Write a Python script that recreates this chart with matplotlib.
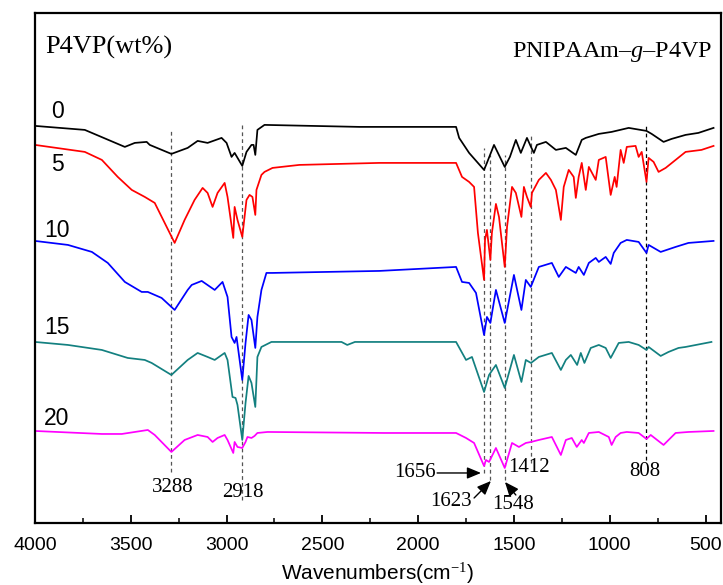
import matplotlib
matplotlib.use("Agg")
import matplotlib.pyplot as plt
from matplotlib.ticker import MultipleLocator

plt.rcParams['mathtext.fontset'] = 'custom'
plt.rcParams['mathtext.rm'] = 'Liberation Serif'
plt.rcParams['mathtext.it'] = 'Liberation Serif:italic'

# spectra: wavenumber (cm-1) and transmittance (offset, a.u.)
wn_0 = [4000, 3740, 3531, 3479, 3417, 3401, 3288, 3203, 3151, 3099, 3026, 3000, 2974, 2958,
        2918, 2896, 2870, 2859, 2850, 2839, 2802, 2307, 1802, 1786, 1734, 1656, 1641, 1604,
        1548, 1521, 1490, 1464, 1432, 1411, 1396, 1380, 1333, 1281, 1229, 1177, 1146, 1125,
        1057, 990, 901, 808, 781, 719, 677, 604, 537, 458]
t_0 = [397, 393, 376, 380, 381, 378, 369, 375, 382, 380, 385, 380, 366, 370,
       357, 371, 378, 378, 368, 393, 398, 396, 396, 385, 370, 353, 360, 378,
       356, 366, 383, 370, 385, 376, 370, 378, 381, 373, 375, 368, 383, 385,
       389, 391, 395, 392, 389, 381, 384, 388, 390, 395]

wn_5 = [4000, 3740, 3651, 3568, 3495, 3427, 3375, 3323, 3271, 3219, 3167, 3125, 3099, 3073,
        3047, 3010, 2995, 2965, 2958, 2943, 2918, 2896, 2880, 2865, 2850, 2844, 2818, 2802,
        2760, 2620, 2203, 1802, 1771, 1734, 1708, 1688, 1656, 1651, 1641, 1623, 1615, 1594,
        1578, 1548, 1536, 1510, 1490, 1461, 1448, 1432, 1412, 1406, 1370, 1333, 1307, 1281,
        1255, 1240, 1214, 1188, 1177, 1162, 1146, 1125, 1109, 1073, 1057, 1021, 995, 974,
        964, 943, 927, 911, 865, 849, 833, 808, 797, 771, 745, 708, 656, 604, 521, 458]
t_5 = [378, 371, 363, 346, 333, 326, 320, 300, 280, 303, 323, 335, 330, 316,
       330, 340, 326, 285, 316, 303, 286, 323, 328, 326, 308, 333, 348, 351,
       355, 358, 360, 360, 346, 341, 336, 290, 243, 283, 293, 263, 290, 319,
       306, 256, 296, 336, 330, 306, 336, 326, 316, 330, 343, 350, 343, 333,
       303, 336, 353, 346, 325, 346, 360, 333, 356, 343, 363, 366, 328, 346,
       336, 373, 360, 376, 377, 366, 371, 341, 365, 361, 351, 355, 363, 371, 373, 377]

wn_10 = [4000, 3828, 3703, 3620, 3531, 3443, 3411, 3339, 3271, 3203, 3182, 3130, 3062, 3021,
         2995, 2974, 2958, 2948, 2918, 2901, 2885, 2870, 2850, 2839, 2818, 2792, 2760, 2203,
         1802, 1771, 1734, 1698, 1656, 1641, 1623, 1594, 1548, 1500, 1461, 1438, 1412, 1370,
         1302, 1266, 1229, 1177, 1162, 1135, 1109, 1073, 1057, 1021, 995, 979, 943, 911,
         849, 808, 797, 734, 656, 589, 458]
t_10 = [282, 278, 271, 260, 241, 231, 231, 225, 213, 233, 238, 242, 233, 241,
        226, 186, 180, 186, 143, 180, 208, 203, 175, 206, 233, 250, 250, 252,
        256, 241, 240, 230, 188, 206, 200, 233, 200, 248, 213, 243, 236, 256,
        260, 246, 256, 250, 256, 248, 260, 265, 261, 266, 259, 270, 280, 283,
        281, 270, 278, 271, 276, 280, 282]

wn_15 = [4000, 3828, 3651, 3516, 3427, 3391, 3288, 3203, 3151, 3099, 3062, 3010, 2995, 2969,
         2953, 2943, 2918, 2901, 2885, 2870, 2850, 2839, 2818, 2766, 2400, 2370, 2330, 1802,
         1750, 1719, 1656, 1630, 1594, 1548, 1500, 1461, 1438, 1411, 1370, 1302, 1255, 1229,
         1203, 1170, 1151, 1132, 1099, 1057, 1021, 995, 953, 901, 849, 808, 797, 734,
         693, 641, 604, 469]
t_15 = [181, 178, 173, 165, 163, 160, 148, 163, 170, 166, 163, 170, 163, 126,
        125, 118, 83, 120, 147, 140, 116, 166, 176, 181, 181, 178, 181, 181,
        163, 166, 131, 148, 158, 135, 168, 141, 163, 160, 166, 170, 153, 163,
        168, 158, 170, 160, 175, 178, 175, 165, 180, 181, 178, 173, 176, 167,
        171, 175, 176, 181]

wn_20 = [4000, 3651, 3547, 3479, 3411, 3375, 3288, 3219, 3151, 3099, 3073, 3047, 3010, 2995,
         2965, 2958, 2943, 2918, 2901, 2891, 2870, 2854, 2839, 2786, 2177, 1802, 1750, 1708,
         1656, 1646, 1630, 1594, 1548, 1510, 1474, 1438, 1411, 1370, 1302, 1255, 1229, 1198,
         1172, 1146, 1135, 1109, 1057, 1005, 990, 969, 943, 911, 849, 808, 786, 719,
         656, 589, 458]
t_20 = [92, 89, 89, 91, 93, 88, 71, 83, 88, 86, 81, 85, 88, 83,
        70, 81, 76, 75, 81, 86, 85, 87, 90, 91, 90, 90, 85, 80,
        57, 63, 61, 75, 55, 80, 76, 80, 81, 83, 86, 68, 83, 85,
        76, 83, 80, 90, 91, 86, 78, 86, 90, 91, 90, 84, 88, 78,
        90, 91, 92]

series = [("0", wn_0, t_0, "black"),
          ("5", wn_5, t_5, "#ff0000"),
          ("10", wn_10, t_10, "#0000ff"),
          ("15", wn_15, t_15, "#138080"),
          ("20", wn_20, t_20, "#ff00ff")]
label_y = [411, 358, 292, 195, 104]

# marked peaks: position, dashed line extent (low, high), colour
peaks = [3288, 2918, 1656, 1623, 1548, 1412, 808]
peak_lo = [51, 23, 50, 43, 43, 60, 63]
peak_hi = [392, 400, 375, 368, 368, 388, 397]
peak_col = ["#555555"] * 6 + ["black"]

# peak labels (text, x, y) and arrows (start -> tip)
peak_text = [("3288", 3280, 35), ("2918", 2917, 30), ("1412", 1422, 55), ("808", 818, 51),
             ("1656", 2016, 50), ("1623", 1828, 21), ("1548", 1505, 18)]
arrows = [((1901, 50), (1672, 50)), ((1708, 25), (1620, 42)), ((1490, 28), (1547, 41))]

fig = plt.figure(figsize=(7.23, 5.85), dpi=100)
ax = fig.add_axes([0.0484, 0.106, 0.9486, 0.872])

for i, p in enumerate(peaks):
    ax.vlines(p, peak_lo[i], peak_hi[i], colors=peak_col[i], linestyles=(0, (3, 2.5)), lw=0.9)

for (name, x, y, c), ly in zip(series, label_y):
    ax.plot(x, y, color=c, lw=1.25)
    ax.text(3885, ly, name, fontsize=16.5, family="Liberation Sans", ha="center", va="center")

serif = "Liberation Serif"
for s, x, y in peak_text:
    ax.text(x, y, s, fontsize=15, family=serif, ha="center", va="center")
for start, tip in arrows:
    ax.annotate("", xy=tip, xytext=start,
                arrowprops=dict(arrowstyle="-|>,head_length=0.6,head_width=0.25",
                                color="black", lw=1.0, mutation_scale=14,
                                shrinkA=0, shrinkB=0))

ax.text(0.0146, 0.933, "P4VP(wt%)", transform=ax.transAxes, fontsize=19, family=serif,
        ha="left", va="center")
ax.text(0.988, 0.9235, "PNIPAAm\u2013$g$\u2013P4VP", transform=ax.transAxes, fontsize=17.5,
        family=serif, ha="right", va="center")

ax.set_xlim(4000, 420)
ax.set_ylim(0, 510)
ax.xaxis.set_major_locator(MultipleLocator(500))
ax.xaxis.set_minor_locator(MultipleLocator(250))
ax.tick_params(axis="x", which="major", direction="in", length=6, width=1.3,
               labelsize=14, pad=10)
ax.tick_params(axis="x", which="minor", direction="in", length=3.5, width=1.1)
ax.set_yticks([])
for lab in ax.get_xticklabels():
    lab.set_family("Liberation Sans")
for s in ax.spines.values():
    s.set_linewidth(1.6)
ax.set_xlabel("Wavenumbers(cm$^{-1}$)", fontsize=15, family="Liberation Sans", labelpad=5)

fig.savefig("out.png", dpi=100)
